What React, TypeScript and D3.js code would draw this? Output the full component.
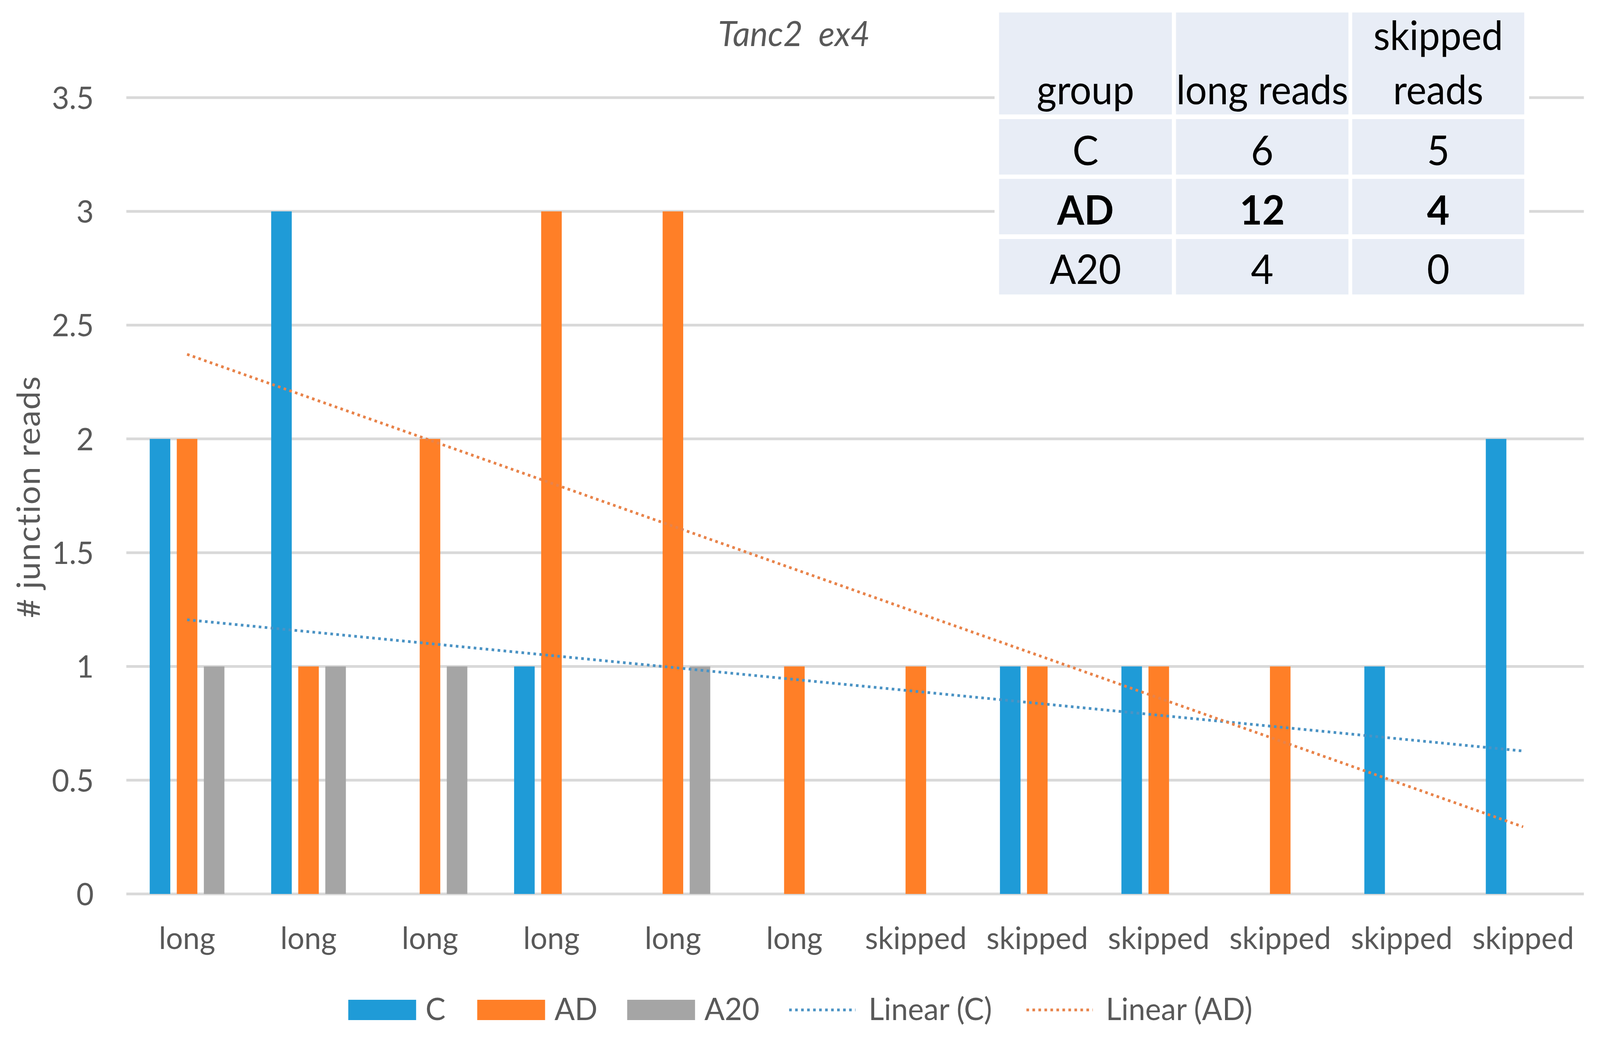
import * as d3 from "d3";

const categories = [
  "long", "long", "long", "long", "long", "long",
  "skipped", "skipped", "skipped", "skipped", "skipped", "skipped",
];
const seriesNames = ["C", "AD", "A20"];
const cValues = [2, 3, 0, 1, 0, 0, 0, 1, 1, 0, 1, 2];
const adValues = [2, 1, 2, 3, 3, 1, 1, 1, 1, 1, 0, 0];
const a20Values = [1, 1, 1, 0, 1, 0, 0, 0, 0, 0, 0, 0];
const yTicks = [0, 0.5, 1, 1.5, 2, 2.5, 3, 3.5];

const tableHeader = [["group"], ["long reads"], ["skipped", "reads"]];
const tableRows = [
  ["C", "6", "5"],
  ["AD", "12", "4"],
  ["A20", "4", "0"],
];
const boldRow = "AD";

const colors: Record<string, string> = {
  C: "#1F9BD7",
  AD: "#FF7F27",
  A20: "#A5A5A5",
};
const trendColors: Record<string, string> = {
  C: "#4B93C4",
  AD: "#E8834A",
};

const W = 4268;
const H = 2663;
const FONT = "Lato, 'Open Sans', sans-serif";
const TEXT = "#595959";

// least squares fit on x = 1..n, like the spreadsheet trendline
function linearFit(values: number[]) {
  const xs = values.map((_, i) => i + 1);
  const mx = d3.mean(xs) || 0;
  const my = d3.mean(values) || 0;
  const sxy = d3.sum(xs, (x, i) => (x - mx) * (values[i] - my));
  const sxx = d3.sum(xs, (x) => (x - mx) ** 2);
  const slope = sxy / sxx;
  return xs.map((x) => ({ i: x - 1, v: my + slope * (x - mx) }));
}

export default function App() {
  const seriesValues: Record<string, number[]> = {
    C: cValues,
    AD: adValues,
    A20: a20Values,
  };

  const idx = categories.map((_, i) => String(i));
  const x0 = d3
    .scaleBand()
    .domain(idx)
    .range([337, 4225])
    .paddingInner(0.385)
    .paddingOuter(0.1925);
  const x1 = d3
    .scaleBand()
    .domain(seriesNames)
    .range([0, x0.bandwidth()])
    .paddingInner(0.24)
    .paddingOuter(0);
  const y = d3.scaleLinear().domain([0, 3.5]).range([2289, 250]);

  const center = (i: number) => (x0(String(i)) || 0) + x0.bandwidth() / 2;

  const trendLine = d3
    .line<{ i: number; v: number }>()
    .x((d) => center(d.i))
    .y((d) => y(d.v));

  const trends = [
    { name: "C", pts: linearFit(cValues) },
    { name: "AD", pts: linearFit(adValues) },
  ];
  const trendEnds = trends.map((t) => [t.pts[0], t.pts[t.pts.length - 1]]);

  // table layout
  const colX = [
    [2665, 3126],
    [3137, 3597],
    [3607, 4066],
  ];
  const rowY = [
    [32, 293],
    [305, 447],
    [458, 600],
    [612, 754],
  ];

  const legendItems = [
    { label: "C", kind: "bar", x: 929 },
    { label: "AD", kind: "bar", x: 1273 },
    { label: "A20", kind: "bar", x: 1673 },
    { label: "Linear (C)", kind: "trend", key: "C", x: 2105 },
    { label: "Linear (AD)", kind: "trend", key: "AD", x: 2738 },
  ];

  return (
    <svg
      viewBox={`0 0 ${W} ${H}`}
      preserveAspectRatio="none"
      style={{
        position: "fixed",
        left: 0,
        top: 0,
        width: "100%",
        height: "100%",
        background: "#fff",
      }}
      fontFamily={FONT}
    >
      <rect width={W} height={H} fill="#fff" />

      {/* gridlines */}
      {yTicks.map((t) => (
        <line
          key={t}
          x1={337}
          x2={4225}
          y1={y(t)}
          y2={y(t)}
          stroke="#D9D9D9"
          strokeWidth={7}
        />
      ))}

      {/* y tick labels */}
      {yTicks.map((t) => (
        <text
          key={t}
          x={250}
          y={y(t)}
          dy="0.36em"
          textAnchor="end"
          fontSize={80}
          fill={TEXT}
        >
          {t}
        </text>
      ))}

      {/* y axis title */}
      <text
        transform={`translate(106, 1272) rotate(-90)`}
        textAnchor="middle"
        fontSize={84}
        letterSpacing={2}
        fill={TEXT}
      >
        # junction reads
      </text>

      {/* title */}
      <text
        x={2118}
        y={118}
        textAnchor="middle"
        fontSize={90}
        fontStyle="italic"
        fill={TEXT}
        style={{ whiteSpace: "pre" }}
      >
        {"Tanc2  ex4"}
      </text>

      {/* bars */}
      {categories.map((_, i) => (
        <g key={i} transform={`translate(${x0(String(i))}, 0)`}>
          {seriesNames.map((s) => {
            const v = seriesValues[s][i];
            if (!v) return null;
            return (
              <rect
                key={s}
                x={x1(s)}
                y={y(v)}
                width={x1.bandwidth()}
                height={y(0) - y(v)}
                fill={colors[s]}
              />
            );
          })}
        </g>
      ))}

      {/* trendlines */}
      {trends.map((t, k) => (
        <path
          key={t.name}
          d={trendLine(trendEnds[k]) || ""}
          fill="none"
          stroke={trendColors[t.name]}
          strokeWidth={7}
          strokeDasharray="7 9"
        />
      ))}

      {/* category labels */}
      {categories.map((c, i) => (
        <text
          key={i}
          x={center(i)}
          y={2430}
          textAnchor="middle"
          fontSize={80}
          fill={TEXT}
        >
          {c}
        </text>
      ))}

      {/* table */}
      <rect x={2653} y={18} width={1426} height={750} fill="#fff" />
      {rowY.map(([ya, yb], r) =>
        colX.map(([xa, xb], c) => (
          <rect
            key={`${r}-${c}`}
            x={xa}
            y={ya}
            width={xb - xa}
            height={yb - ya}
            fill="#E8EDF6"
          />
        ))
      )}
      {tableHeader.map((lines, c) =>
        lines.map((ln, k) => (
          <text
            key={`h-${c}-${k}`}
            x={(colX[c][0] + colX[c][1]) / 2}
            y={267 - (lines.length - 1 - k) * 139}
            textAnchor="middle"
            fontSize={102}
            fill="#000"
          >
            {ln}
          </text>
        ))
      )}
      {tableRows.map((row, r) =>
        row.map((cell, c) => (
          <text
            key={`r-${r}-${c}`}
            x={(colX[c][0] + colX[c][1]) / 2}
            y={[423, 575, 727][r]}
            textAnchor="middle"
            fontSize={104}
            fontWeight={row[0] === boldRow ? 700 : 400}
            fill="#000"
          >
            {cell}
          </text>
        ))
      )}

      {/* legend */}
      {legendItems.map((it) => (
        <g key={it.label}>
          {it.kind === "bar" ? (
            <rect x={it.x} y={2560} width={181} height={52} fill={colors[it.label]} />
          ) : (
            <line
              x1={it.x}
              x2={it.x + 177}
              y1={2586}
              y2={2586}
              stroke={trendColors[it.key as string]}
              strokeWidth={7}
              strokeDasharray="7 9"
            />
          )}
          <text
            x={it.x + (it.kind === "bar" ? 206 : 212)}
            y={2612}
            fontSize={80}
            fill={TEXT}
          >
            {it.label}
          </text>
        </g>
      ))}
    </svg>
  );
}
